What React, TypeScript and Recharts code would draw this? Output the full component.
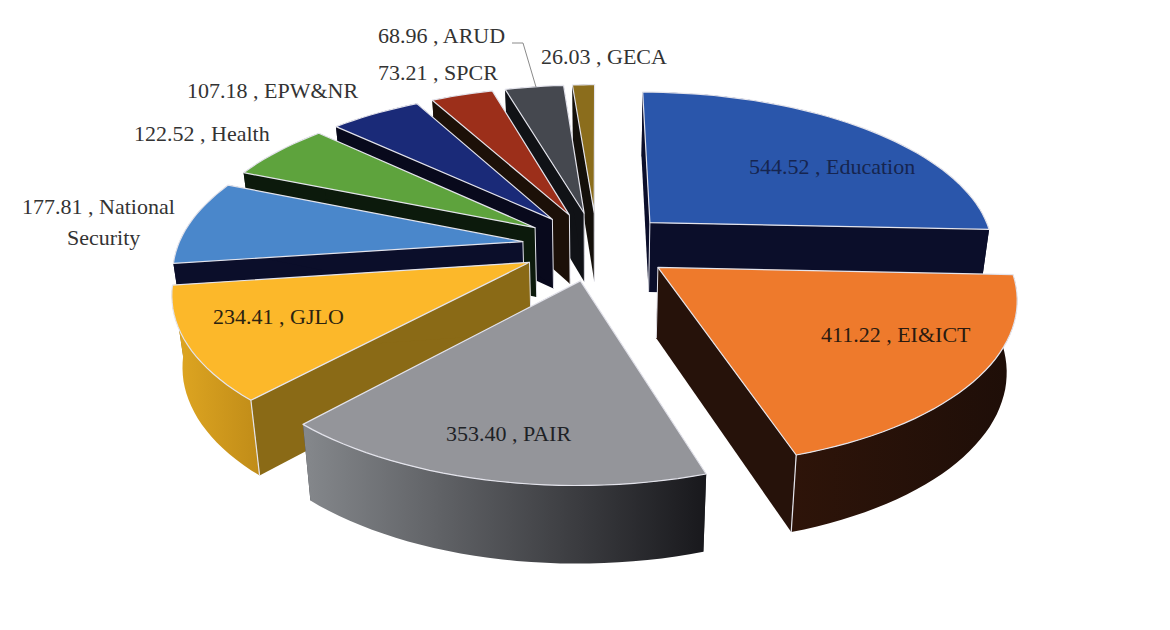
import { PieChart, Pie } from 'recharts';

const CATEGORIES = ['Education', 'EI&ICT', 'PAIR', 'GJLO', 'National Security', 'Health', 'EPW&NR', 'SPCR', 'ARUD', 'GECA'];
const VALUES = [544.52, 411.22, 353.4, 234.41, 177.81, 122.52, 107.18, 73.21, 68.96, 26.03];

const TOP_COLORS = ['#2a56ab', '#ee7a2c', '#94959a', '#fcb82a', '#4a87cb', '#5ea33d', '#1a2a78', '#9c2f1a', '#45484f', '#8b6d1c'];
const RADIAL_COLORS = ['#0b0e2a', '#26120a', '#3a3c42', '#8a6a16', '#0b0e2a', '#0c1a0c', '#08091c', '#1c1008', '#101216', '#14100a'];
const WALL_LEFT = ['#0b0e2a', '#2e1409', '#85888c', '#e0a722', '#0b0e2a', '#0c1a0c', '#08091c', '#1c1008', '#101216', '#14100a'];
const WALL_RIGHT = ['#0b0e2a', '#1e0e08', '#18181c', '#c08c18', '#0b0e2a', '#0c1a0c', '#08091c', '#1c1008', '#101216', '#14100a'];

// label placement, text start x / baseline y
const LABEL_X = [749, 821, 446, 213, 22, 134, 187, 378, 378, 541];
const LABEL_Y = [174, 342, 441, 324, 214, 141, 98, 80, 43, 64];
const LABEL_COLORS = ['#16254f', '#2a1a10', '#1e2226', '#2a2210', '#333333', '#333333', '#333333', '#333333', '#333333', '#333333'];

const WIDTH = 1170;
const HEIGHT = 630;
const CX = 597;
const CY = 246;
const RADIUS = 345;
const EXPLODE = 75;
const SQUASH = 0.46;
const PERSP = 0.00047;
const DEPTH = 70;

const total = VALUES.reduce((a, b) => a + b, 0);
const rows = CATEGORIES.map((name, i) => ({ name, value: VALUES[i], idx: i }));
// two pies so the painting order runs back to front
const frontRows = rows.slice(0, 3);
const backRows = rows.slice(3).reverse();
const frontSweep = (frontRows.reduce((s, r) => s + r.value, 0) / total) * 360;
const backSweep = 360 - frontSweep;

function project(u: number, v: number) {
  const s = 1 / (1 - PERSP * v);
  return { x: CX + u * s, y: CY + SQUASH * v * s, s };
}

function lower(p: { x: number; y: number; s: number }) {
  return { x: CX + (p.x - CX) * 0.975, y: p.y + DEPTH * Math.pow(p.s, 0.5) };
}

function toPath(pts: { x: number; y: number }[], close = true) {
  return pts.map((p, i) => `${i ? 'L' : 'M'}${p.x.toFixed(1)},${p.y.toFixed(1)}`).join(' ') + (close ? ' Z' : '');
}

function SliceShape(props: any) {
  const idx = props.payload?.idx ?? props.idx;
  const a0 = Math.max(props.startAngle, props.endAngle);
  const a1 = Math.min(props.startAngle, props.endAngle);
  const rad = Math.PI / 180;
  const mid = ((a0 + a1) / 2) * rad;
  const du = EXPLODE * Math.cos(mid);
  const dv = -EXPLODE * Math.sin(mid);
  const apex = project(du, dv);
  const arc = [];
  const steps = Math.max(4, Math.round((a0 - a1) / 2));
  for (let i = 0; i <= steps; i++) {
    const a = (a0 + ((a1 - a0) * i) / steps) * rad;
    arc.push(project(du + props.outerRadius * Math.cos(a), dv - props.outerRadius * Math.sin(a)));
  }
  const arcLow = arc.map(lower);
  const apexLow = lower(apex);
  const first = arc[0];
  const last = arc[arc.length - 1];
  const gid = `wall-${idx}`;
  const edge = '#e4e4ec';
  return (
    <g>
      <defs>
        <linearGradient id={gid} x1="0" y1="0" x2="1" y2="0">
          <stop offset="0%" stopColor={WALL_LEFT[idx]} />
          <stop offset="100%" stopColor={WALL_RIGHT[idx]} />
        </linearGradient>
      </defs>
      <path d={toPath([apex, first, lower(first), apexLow])} fill={RADIAL_COLORS[idx]} />
      <path d={toPath([apex, last, lower(last), apexLow])} fill={RADIAL_COLORS[idx]} />
      <path d={toPath([...arc, ...[...arcLow].reverse()])} fill={`url(#${gid})`} />
      <path d={toPath([apex, apexLow], false)} stroke={edge} strokeWidth={1} fill="none" />
      {idx === 1 && <path d={toPath([last, lower(last)], false)} stroke={edge} strokeWidth={1.2} fill="none" />}
      {idx === 3 && <path d={toPath([first, lower(first)], false)} stroke={edge} strokeWidth={1.2} fill="none" />}
      <path d={toPath([apex, ...arc])} fill={TOP_COLORS[idx]} stroke={edge} strokeWidth={1.2} strokeLinejoin="round" />
    </g>
  );
}

function SliceLabel(props: any) {
  const idx = props.payload?.idx ?? props.idx;
  const x = LABEL_X[idx];
  const y = LABEL_Y[idx];
  const text = `${VALUES[idx].toFixed(2)} , ${CATEGORIES[idx]}`;
  const common = { fontFamily: '"Liberation Serif", serif', fontSize: 22, fill: LABEL_COLORS[idx] };
  if (CATEGORIES[idx] === 'National Security') {
    return (
      <text {...common} textAnchor="start">
        <tspan x={x} y={y}>{`${VALUES[idx].toFixed(2)} , National`}</tspan>
        <tspan x={x + 45} y={y + 31}>Security</tspan>
      </text>
    );
  }
  return (
    <g>
      {CATEGORIES[idx] === 'ARUD' && <path d="M512,43 L523,43 L536,87" fill="none" stroke="#8a8a8a" strokeWidth={1} />}
      <text {...common} x={x} y={y} textAnchor="start">
        {text}
      </text>
    </g>
  );
}

export default function App() {
  return (
    <div style={{ position: 'absolute', left: 0, top: 0, width: WIDTH, height: HEIGHT, background: '#ffffff' }}>
      <PieChart width={WIDTH} height={HEIGHT} margin={{ top: 0, right: 0, bottom: 0, left: 0 }}>
        <Pie
          data={backRows}
          dataKey="value"
          nameKey="name"
          cx={CX}
          cy={CY}
          outerRadius={RADIUS}
          startAngle={90}
          endAngle={90 + backSweep}
          stroke="none"
          shape={SliceShape}
          inactiveShape={SliceShape}
          label={SliceLabel}
          labelLine={false}
          isAnimationActive={false}
        />
        <Pie
          data={frontRows}
          dataKey="value"
          nameKey="name"
          cx={CX}
          cy={CY}
          outerRadius={RADIUS}
          startAngle={90}
          endAngle={90 - frontSweep}
          stroke="none"
          shape={SliceShape}
          inactiveShape={SliceShape}
          label={SliceLabel}
          labelLine={false}
          isAnimationActive={false}
        />
      </PieChart>
    </div>
  );
}
